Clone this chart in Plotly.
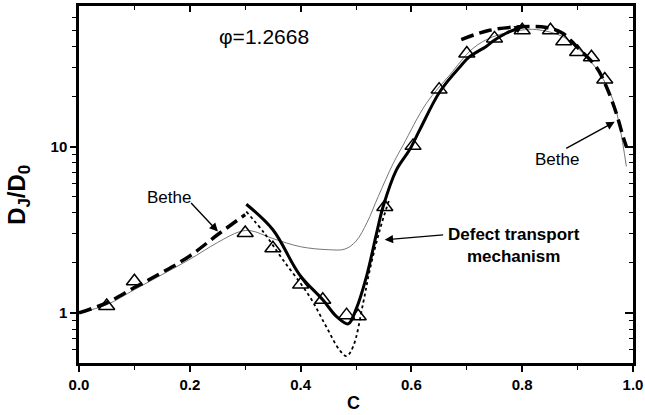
import numpy as np
import plotly.graph_objects as go

# ---------------- data ----------------
# thin grey curve
thin_c = [0.0, 0.05, 0.10, 0.15, 0.20, 0.25, 0.29, 0.31, 0.35, 0.40, 0.45, 0.48, 0.50, 0.52, 0.54,
          0.567, 0.585, 0.627, 0.669, 0.711, 0.747, 0.796, 0.826, 0.874, 0.91, 0.94, 0.964, 0.976, 0.988]
thin_y = [1.0, 1.12, 1.38, 1.70, 2.10, 2.65, 3.08, 3.12, 2.80, 2.50, 2.40, 2.42, 2.70, 3.50, 5.0,
          7.9, 10.2, 18.2, 26.9, 38.9, 45.7, 50.0, 50.5, 45.7, 36.3, 27.5, 19.0, 13.2, 7.6]

# thick dashed "Bethe" curve (two branches)
bethe_left_c = [0.0, 0.05, 0.10, 0.15, 0.20, 0.25, 0.30]
bethe_left_y = [1.0, 1.15, 1.42, 1.75, 2.20, 2.95, 3.90]
bethe_right_c = [0.69, 0.741, 0.796, 0.844, 0.873, 0.898, 0.934, 0.952, 0.97, 0.982, 0.988]
bethe_right_y = [44.0, 50.0, 52.5, 52.0, 48.0, 40.0, 30.0, 22.9, 15.8, 11.5, 10.0]

# thick solid "defect transport mechanism" curve
defect_c = [0.302, 0.35, 0.398, 0.44, 0.465, 0.486, 0.50, 0.519, 0.537, 0.549, 0.573, 0.597,
            0.615, 0.651, 0.687, 0.705, 0.735, 0.747, 0.771, 0.80]
defect_y = [4.5, 3.16, 1.70, 1.20, 0.95, 0.86, 1.05, 1.66, 3.0, 4.36, 7.24, 9.6,
            12.6, 21.3, 30.0, 34.7, 40.0, 43.0, 48.0, 52.5]

# dotted curve
dotted_c = [0.302, 0.335, 0.368, 0.416, 0.446, 0.47, 0.483, 0.495, 0.513, 0.525, 0.543, 0.56]
dotted_y = [4.07, 3.0, 2.09, 1.26, 0.83, 0.60, 0.55, 0.63, 1.15, 1.82, 3.16, 4.8]

# simulation points (open triangles)
sim_c = [0.05, 0.10, 0.30, 0.35, 0.40, 0.44, 0.483, 0.504, 0.552, 0.603, 0.65, 0.70, 0.75,
         0.80, 0.851, 0.875, 0.90, 0.925, 0.949]
sim_y = [1.10, 1.55, 3.02, 2.45, 1.48, 1.20, 0.97, 0.955, 4.33, 10.1, 22.0, 36.3, 44.7,
         50.0, 50.0, 43.0, 37.0, 34.4, 25.3]

x_ticks = [0.0, 0.2, 0.4, 0.6, 0.8, 1.0]
x_tick_labels = ["0.0", "0.2", "0.4", "0.6", "0.8", "1.0"]
y_ticks = [1, 10]
y_tick_labels = ["1", "10"]

FONT = "Liberation Sans, Arial, Helvetica, sans-serif"

fig = go.Figure()
fig.add_trace(go.Scatter(x=thin_c, y=thin_y, mode="lines", line=dict(color="#666666", width=0.9),
                         line_shape="spline", hoverinfo="skip"))
fig.add_trace(go.Scatter(x=dotted_c, y=dotted_y, mode="lines", line=dict(color="black", width=1.8, dash="dot"),
                         line_shape="spline"))
fig.add_trace(go.Scatter(x=bethe_left_c, y=bethe_left_y, mode="lines",
                         line=dict(color="black", width=3.5, dash="13px,6px"), line_shape="spline"))
fig.add_trace(go.Scatter(x=bethe_right_c, y=bethe_right_y, mode="lines",
                         line=dict(color="black", width=3.5, dash="13px,6px"), line_shape="spline"))
fig.add_trace(go.Scatter(x=defect_c, y=defect_y, mode="lines", line=dict(color="black", width=3),
                         line_shape="spline"))
fig.add_trace(go.Scatter(x=sim_c, y=sim_y, mode="markers",
                         marker=dict(symbol="triangle-up-open", size=14, color="black",
                                     line=dict(width=1.5, color="black"))))
# invisible trace for mirror axes
fig.add_trace(go.Scatter(x=[0.5], y=[2], xaxis="x2", yaxis="y2", mode="markers",
                         marker=dict(opacity=0), hoverinfo="skip"))

axis_common = dict(showgrid=False, zeroline=False, showline=True, linecolor="black", linewidth=2.5,
                   tickcolor="black", tickwidth=1.5)
minor_y = [0.6, 0.7, 0.8, 0.9, 2, 3, 4, 5, 6, 7, 8, 9, 20, 30, 40, 50, 60]

fig.update_layout(
    width=645, height=415,
    margin=dict(l=79, r=12, t=6, b=52, autoexpand=False),
    paper_bgcolor="white", plot_bgcolor="white",
    showlegend=False,
    font=dict(family=FONT, color="black"),
    xaxis=dict(range=[0, 1], tickvals=x_ticks, ticktext=x_tick_labels, ticks="outside", ticklen=6,
               tickfont=dict(size=15, family=FONT, weight="bold"),
               minor=dict(dtick=0.1, tick0=0, ticks="outside", ticklen=4, tickcolor="black", tickwidth=1.2),
               **axis_common),
    yaxis=dict(type="log", range=[np.log10(0.5), np.log10(70)], tickvals=y_ticks, ticktext=y_tick_labels,
               ticks="outside", ticklen=6, tickfont=dict(size=15, family=FONT, weight="bold"),
               minor=dict(tickvals=minor_y, ticks="outside", ticklen=4, tickcolor="black", tickwidth=1.2),
               **axis_common),
    xaxis2=dict(range=[0, 1], overlaying="x", side="top", tickvals=x_ticks, showticklabels=False,
                ticks="inside", ticklen=6,
                minor=dict(dtick=0.1, tick0=0, ticks="inside", ticklen=4, tickcolor="black", tickwidth=1.2),
                **axis_common),
    yaxis2=dict(type="log", range=[np.log10(0.5), np.log10(70)], overlaying="y", side="right",
                tickvals=y_ticks, showticklabels=False, ticks="inside", ticklen=8,
                minor=dict(tickvals=minor_y, ticks="inside", ticklen=4, tickcolor="black", tickwidth=1.2),
                **axis_common),
)

annotations = [
    # axis titles
    dict(text="<b>C</b>", xref="paper", yref="paper", x=0.496, y=-0.112, xanchor="center", yanchor="middle",
         showarrow=False, font=dict(size=18, family=FONT)),
    dict(text="<b>D<sub>J</sub>/D<sub>0</sub></b>", xref="paper", yref="paper", x=-0.109, y=0.47,
         xanchor="center", yanchor="middle", textangle=-90, showarrow=False, font=dict(size=24, family=FONT)),
    # labels
    dict(text="φ=1.2668", x=0.3337, y=1.6635, xref="x", yref="y", showarrow=False,
         font=dict(size=21, family=FONT)),
    dict(text="Bethe", x=0.1619, y=0.6917, xref="x", yref="y", showarrow=False,
         font=dict(size=17, family=FONT)),
    dict(text="Bethe", x=0.8636, y=0.9226, xref="x", yref="y", showarrow=False,
         font=dict(size=17, family=FONT)),
    dict(text="<b>Defect transport<br>mechanism</b>", x=0.7847, y=0.4037, xref="x", yref="y",
         showarrow=False, font=dict(size=17, family=FONT), align="center"),
]
# arrows (head x,y; tail ax,ay in data coordinates; log10 for y)
arrows = [
    (0.2508, 0.4895, 0.1998, 0.6695),
    (0.967, 1.149, 0.8767, 0.984),
    (0.5518, 0.4397, 0.660, 0.4697),
    (0.801, 1.7295, 0.787, 1.70),
]
for hx, hy, tx, ty in arrows:
    annotations.append(dict(text="", x=hx, y=hy, ax=tx, ay=ty, xref="x", yref="y", axref="x", ayref="y",
                            showarrow=True, arrowhead=2, arrowsize=1.2, arrowwidth=1.4, arrowcolor="black"))
fig.update_layout(annotations=annotations)

fig.write_html("out.html", config={"displayModeBar": False},
               post_script="document.body.style.margin='0';document.body.style.overflow='hidden';")
